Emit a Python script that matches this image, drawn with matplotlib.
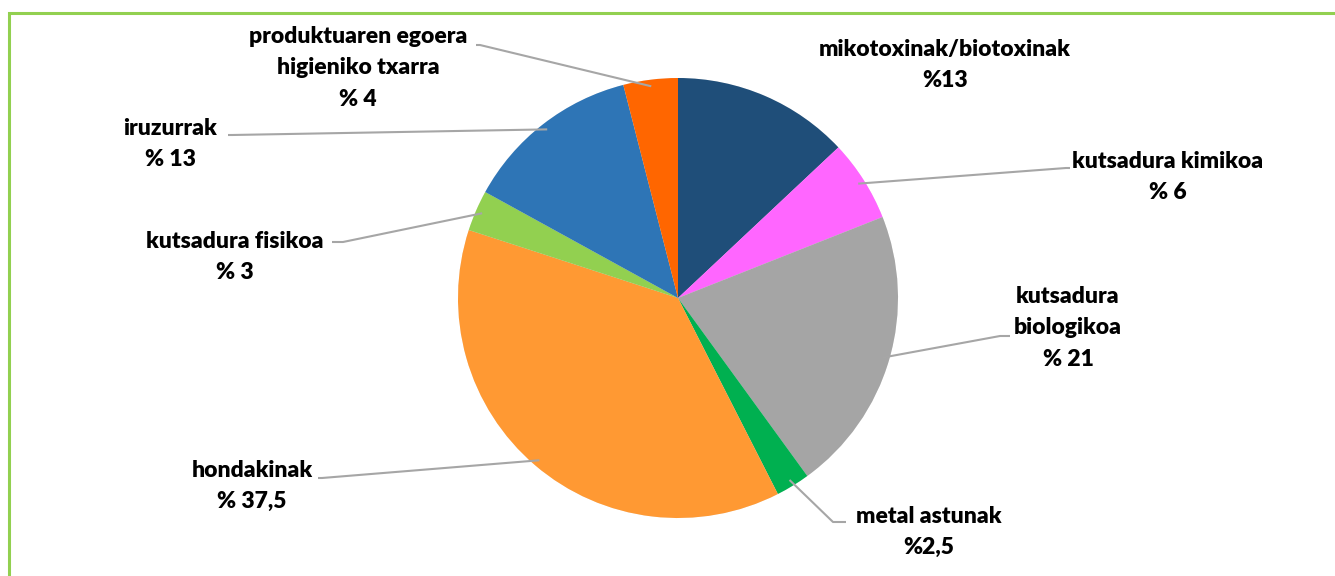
import numpy as np
import matplotlib
matplotlib.use('Agg')
import matplotlib.pyplot as plt
from matplotlib.patches import Rectangle
import matplotlib.patheffects as pe

W, H = 1335, 576

# data
labels = ['mikotoxinak/biotoxinak', 'kutsadura kimikoa', 'kutsadura\nbiologikoa',
          'metal astunak', 'hondakinak', 'kutsadura fisikoa', 'iruzurrak',
          'produktuaren egoera\nhigieniko txarra']
values = [13, 6, 21, 2.5, 37.5, 3, 13, 4]
pct_text = ['%13', '% 6', '% 21', '%2,5', '% 37,5', '% 3', '% 13', '% 4']
colors = ['#1F4E79', '#FF66FF', '#A5A5A5', '#00B050', '#FF9933', '#92D050', '#2E75B6', '#FF6600']

# label layout (pixel coords, y from top): text block centre, leader end points
text_pos = [(945, 65), (1168, 177), (1068, 328), (929, 532), (252, 486), (235, 257), (170, 144), (358, 68)]
leader = [None,
          [(1066, 168), (1070, 168)],
          [(1000, 336), (1010, 336)],
          [(833, 522), (846, 522)],
          [(322, 478), (318, 478)],
          [(343, 242), (332, 242)],
          [(232, 135), (228, 135)],
          [(480, 45), (476, 45)]]

cx, cy, R = 678, 298, 220

fig = plt.figure(figsize=(W / 100, H / 100), dpi=100)
ax = fig.add_axes([0, 0, 1, 1])

def py(y):
    return H - y

# green frame
ax.add_patch(Rectangle((9, -20), W + 40, py(13) + 20, fill=False,
                       edgecolor='#92D050', linewidth=2.2))

wedges, _ = ax.pie(values, colors=colors, startangle=90, counterclock=False,
                   center=(cx, py(cy)), radius=R, frame=True,
                   wedgeprops=dict(linewidth=0))
for w in wedges:
    w.set_path_effects([pe.SimplePatchShadow(offset=(0, 0), shadow_rgbFace='#000000', alpha=0.08),
                        pe.Normal()])
ax.set_xlim(0, W)
ax.set_ylim(0, H)
ax.set_aspect('equal')
ax.axis('off')

font = dict(family='Lato', fontweight='heavy', fontsize=16.5, color='black')

total = sum(values)
start = 90.0
for i, v in enumerate(values):
    mid = start - v / total * 360 / 2
    start -= v / total * 360
    tx, ty = text_pos[i]
    txt = labels[i] + '\n' + pct_text[i]
    ax.text(tx, py(ty), txt, ha='center', va='center', linespacing=1.6, **font)
    if leader[i] is not None:
        a = np.deg2rad(mid)
        ax_x = cx + 0.97 * R * np.cos(a)
        ax_y = py(cy) + 0.97 * R * np.sin(a)
        xs = [ax_x] + [p[0] for p in leader[i]]
        ys = [ax_y] + [py(p[1]) for p in leader[i]]
        ax.plot(xs, ys, color='#A6A6A6', linewidth=1.5, solid_capstyle='butt')

plt.savefig('out.png', dpi=100)
